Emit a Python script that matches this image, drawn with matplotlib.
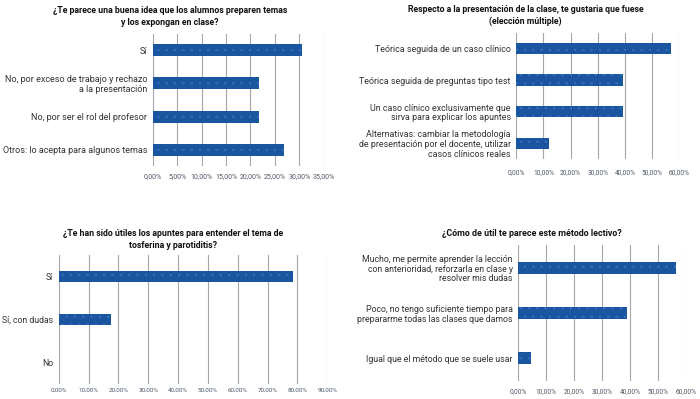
import matplotlib
matplotlib.use("Agg")
import matplotlib.pyplot as plt
from matplotlib.ticker import FuncFormatter, MultipleLocator

plt.rcParams['font.family'] = ['Roboto', 'Liberation Sans', 'DejaVu Sans']
plt.rcParams['hatch.color'] = '#3570b8'
plt.rcParams['hatch.linewidth'] = 0.5

# Data
title1 = ["¿Te parece una buena idea que los alumnos preparen temas", "y los expongan en clase?"]
cats1 = ["Sí", "No, por exceso de trabajo y rechazo\na la presentación",
         "No, por ser el rol del profesor", "Otros: lo acepta para algunos temas"]
vals1 = [30.5, 21.8, 21.8, 26.8]

title2 = ["Respecto a la presentación de la clase, te gustaria que fuese", "(elección múltiple)"]
cats2 = ["Teórica seguida de un caso clínico", "Teórica seguida de preguntas tipo test",
         "Un caso clínico exclusivamente que\nsirva para explicar los apuntes",
         "Alternativas: cambiar la metodología\nde presentación por el docente, utilizar\ncasos clínicos reales"]
vals2 = [56.8, 39.3, 39.3, 12.0]

title3 = ["¿Te han sido útiles los apuntes para entender el tema de", "tosferina y parotiditis?"]
cats3 = ["Sí", "Sí, con dudas", "No"]
vals3 = [78.4, 17.4, 0.0]

title4 = ["¿Cómo de útil te parece este método lectivo?"]
cats4 = ["Mucho, me permite aprender la lección\ncon anterioridad, reforzarla en clase y\nresolver mis dudas",
         "Poco, no tengo suficiente tiempo para\nprepararme todas las clases que damos",
         "Igual que el método que se suele usar"]
vals4 = [56.3, 39.0, 4.4]

W, H = 700, 399
fig = plt.figure(figsize=(7, 3.99), dpi=100)
fig.patch.set_facecolor('white')

BAR = '#1a56a0'
GRID = '#a6a6a6'

def panel(rect_px, cats, vals, xmax, step, bar_h, pad):
    l, r, t, b = rect_px
    ax = fig.add_axes([l / W, 1 - b / H, (r - l) / W, (b - t) / H])
    y = list(range(len(cats)))
    ax.barh(y, vals, height=bar_h, color=BAR, edgecolor='#3570b8', linewidth=0.0,
            hatch='..', zorder=3)
    ax.set_xlim(0, xmax)
    ax.set_ylim(len(cats) - 0.5, -0.5)
    ax.set_yticks(y)
    ax.set_yticklabels(cats, fontsize=7, color='#333333', ha='right', linespacing=1.1)
    ax.xaxis.set_major_locator(MultipleLocator(step))
    ax.xaxis.set_major_formatter(FuncFormatter(lambda v, p: f"{v:.2f}".replace('.', ',') + "%"))
    ax.tick_params(axis='x', length=0, labelsize=5, colors='#4d5866', pad=pad)
    ax.tick_params(axis='y', length=0, pad=4)
    ax.grid(axis='x', color=GRID, linewidth=0.8, zorder=0)
    for s in ax.spines.values():
        s.set_visible(False)
    return ax

ax1 = panel((152.7, 323.7, 33.6, 166.3), cats1, vals1, 35, 5, 0.36, 5)
ax2 = panel((516.3, 679.3, 32.7, 159.0), cats2, vals2, 60, 10, 0.36, 7)
ax3 = panel((58.7, 327.3, 255.0, 383.7), cats3, vals3, 90, 10, 0.27, 3)
ax4 = panel((518.3, 686.0, 245.0, 381.0), cats4, vals4, 60, 10, 0.26, 5)

tkw = dict(fontsize=7, fontweight='bold', ha='center', va='center', color='#111111')

def title(lines, xc, ycs):
    return [fig.text(xc / W, 1 - yc / H, s, **tkw) for s, yc in zip(lines, ycs)]

t1 = title(title1, 170, [10.7, 22.7])
t2 = title(title2, 525.7, [10.0, 21.7])
t3 = title(title3, 173, [233.5, 245.7])
t4 = title(title4, 531.7, [233.5])

# fit text sizes to the widths measured on the reference
fig.canvas.draw()
rend = fig.canvas.get_renderer()

def fit(texts, target_px):
    w = max(t.get_window_extent(rend).width for t in texts)
    for t in texts:
        t.set_fontsize(t.get_fontsize() * target_px / w)

fit(ax1.get_yticklabels(), 145)
fit(ax2.get_yticklabels(), 152)
fit(ax3.get_yticklabels(), 51)
fit(ax4.get_yticklabels(), 157)
fit(ax1.get_xticklabels(), 22.5)
fit(ax2.get_xticklabels(), 22.5)
fit(ax3.get_xticklabels(), 23.5)
fit(ax4.get_xticklabels(), 22.5)
fit(t1, 239)
fit(t2, 239)
fit(t3, 225)
fit(t4, 181)

fig.savefig("out.png", dpi=100)
